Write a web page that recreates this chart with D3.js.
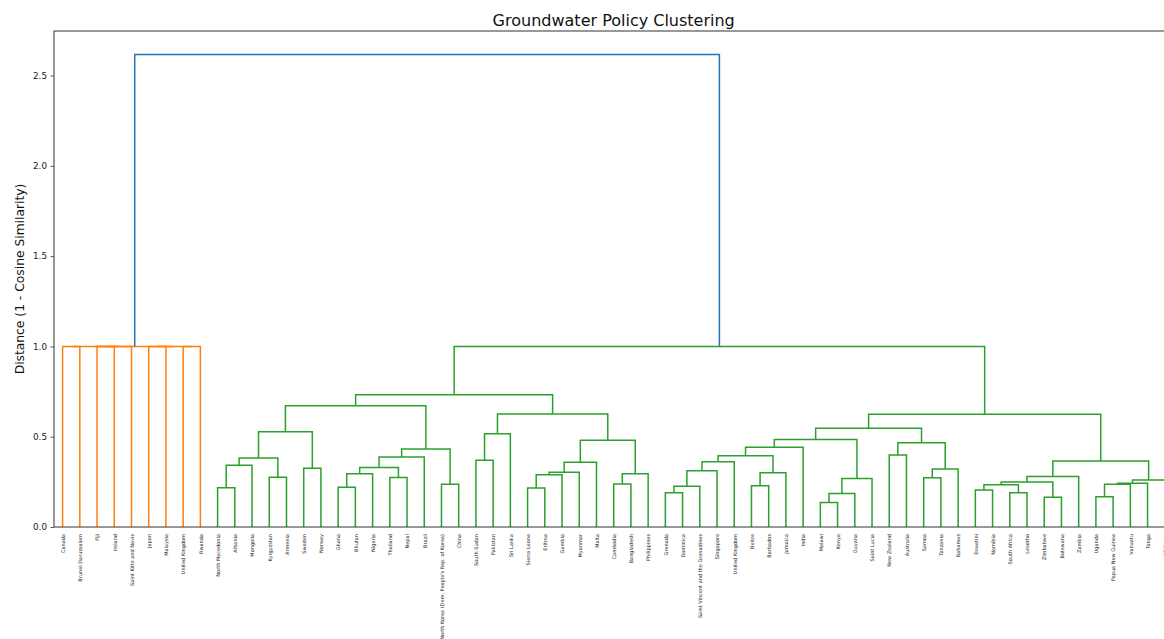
<!DOCTYPE html>
<html>
<head>
<meta charset="utf-8">
<script src="https://cdn.jsdelivr.net/npm/d3@7"></script>
<style>
    body { margin: 0; background: #fff; }
    text { font-family: "DejaVu Sans", sans-serif; }
</style>
</head>
<body>
<div id="chart"></div>
<script>
// Leaves in the order they appear along the x axis
const leaves = [
    "Canada", "Brunei Darussalam", "Fiji", "Ireland", "Saint Kitts and Nevis", "Japan", "Malaysia",
    "United Kingdom", "Rwanda", "North Macedonia", "Albania", "Mongolia", "Kyrgyzstan", "Armenia",
    "Sweden", "Norway", "Ghana", "Bhutan", "Nigeria", "Thailand", "Nepal", "Brazil",
    "North Korea (Dem. People's Rep. of Korea)", "China", "South Sudan", "Pakistan", "Sri Lanka",
    "Sierra Leone", "Eritrea", "Gambia", "Myanmar", "Malta", "Cambodia", "Bangladesh", "Philippines",
    "Grenada", "Dominica", "Saint Vincent and the Grenadines", "Singapore", "United Kingdom", "Belize",
    "Barbados", "Jamaica", "India", "Malawi", "Kenya", "Guyana", "Saint Lucia", "New Zealand",
    "Australia", "Samoa", "Tanzania", "Bahamas", "Eswatini", "Namibia", "South Africa", "Lesotho",
    "Zimbabwe", "Botswana", "Zambia", "Uganda", "Papua New Guinea", "Vanuatu", "Tonga", "Vietnam"
];

// Linkage rows (scipy style): left id, right id, distance.
// ids below leaves.length are leaves, the rest point to earlier rows (leaves.length + row)
const mergeLeft = [
    0, 2, 66, 65, 5, 7, 69, 68,
    9, 73, 12, 74, 14, 76,
    16, 79, 19, 80, 82, 22, 83, 78,
    24, 87, 27, 89, 90, 91, 32, 93, 92, 88, 86,
    35, 98, 99, 100, 40, 102, 101, 104, 44, 106, 107, 105, 48, 50, 111, 110, 109,
    53, 55, 115, 57, 117, 119, 60, 121, 122, 123, 120, 114, 97, 72
];
const mergeRight = [
    1, 3, 4, 67, 6, 8, 70, 71,
    10, 11, 13, 75, 15, 77,
    17, 18, 20, 81, 21, 23, 84, 85,
    25, 26, 28, 29, 30, 31, 33, 34, 94, 95, 96,
    36, 37, 38, 39, 41, 42, 103, 43, 45, 46, 47, 108, 49, 51, 52, 112, 113,
    54, 56, 116, 58, 118, 59, 61, 62, 63, 64, 124, 125, 126, 127
];
const mergeHeight = [
    1.0, 1.0, 1.0, 1.0, 1.0, 1.0, 1.0, 1.0,
    0.218, 0.342, 0.275, 0.382, 0.325, 0.527,
    0.220, 0.295, 0.274, 0.329, 0.387, 0.237, 0.432, 0.671,
    0.370, 0.517, 0.216, 0.290, 0.303, 0.359, 0.238, 0.295, 0.481, 0.626, 0.733,
    0.190, 0.226, 0.312, 0.362, 0.229, 0.301, 0.395, 0.442, 0.135, 0.185, 0.268, 0.484,
    0.399, 0.273, 0.321, 0.467, 0.547,
    0.205, 0.190, 0.234, 0.165, 0.249, 0.279, 0.168, 0.237, 0.242, 0.260, 0.366, 0.625,
    0.999, 2.616
];

const yTicks = [0, 0.5, 1.0, 1.5, 2.0, 2.5];
const clusterColors = ["#ff7f0e", "#2ca02c", "#d62728", "#9467bd"];
const aboveColor = "#1f77b4";

// Size of the svg element
const svg_width = 1164;
const svg_height = 639;

// Plot area (the right edge runs a little past the picture)
const area = {left: 54, top: 31, right: 1173.4, bottom: 527};

const n = leaves.length;
const maxHeight = d3.max(mergeHeight);
const threshold = 0.7 * maxHeight;

// Scales: leaf i sits at 10*i + 5 like scipy does
const x = d3.scaleLinear().domain([0, 10 * n]).range([area.left, area.right]);
const y = d3.scaleLinear().domain([0, maxHeight * 1.05]).range([area.bottom, area.top]);

// Position of every node (leaf or merge)
const nodeX = [];
const nodeY = [];
leaves.forEach((d, i) => { nodeX[i] = 10 * i + 5; nodeY[i] = 0; });
mergeHeight.forEach((h, r) => {
    nodeX[n + r] = (nodeX[mergeLeft[r]] + nodeX[mergeRight[r]]) / 2;
    nodeY[n + r] = h;
});

// Work out link colours: each subtree under the threshold gets its own colour
const linkColor = [];
let nextColor = 0;
function paint(id, color){
    if (id < n) return;
    const r = id - n;
    let c = color;
    if (c == null && mergeHeight[r] <= threshold) c = clusterColors[nextColor++ % clusterColors.length];
    linkColor[r] = c == null ? aboveColor : c;
    paint(mergeLeft[r], c);
    paint(mergeRight[r], c);
}
paint(n + mergeHeight.length - 1, null);

const links = mergeHeight.map((h, r) => ({
    points: [
        [nodeX[mergeLeft[r]], nodeY[mergeLeft[r]]],
        [nodeX[mergeLeft[r]], h],
        [nodeX[mergeRight[r]], h],
        [nodeX[mergeRight[r]], nodeY[mergeRight[r]]]
    ],
    color: linkColor[r]
}));

// Create svg
const svg = d3.select("#chart")
    .append("svg")
    .attr("width", svg_width)
    .attr("height", svg_height);

// Clip the links to the plot area
svg.append("defs")
    .append("clipPath")
        .attr("id", "clip")
    .append("rect")
        .attr("x", area.left)
        .attr("y", area.top)
        .attr("width", area.right - area.left)
        .attr("height", area.bottom - area.top);

const line = d3.line()
    .x(d => x(d[0]))
    .y(d => y(d[1]));

svg.append("g")
    .attr("clip-path", "url(#clip)")
    .selectAll("path")
    .data(links)
    .join("path")
        .attr("d", d => line(d.points))
        .attr("fill", "none")
        .attr("stroke", d => d.color)
        .attr("stroke-width", 1.5);

// y axis
const yAxis = svg.append("g")
    .attr("transform", `translate(${area.left},0)`)
    .call(d3.axisLeft(y).tickValues(yTicks).tickFormat(d3.format(".1f")).tickSize(3.5).tickPadding(3.5));
yAxis.select(".domain").remove();
yAxis.selectAll("line").attr("stroke", "#333").attr("stroke-width", 0.8);
yAxis.selectAll("text")
    .attr("fill", "#222")
    .style("font-size", "8.8px");

// x axis with the leaf labels
const xAxis = svg.append("g")
    .attr("transform", `translate(0,${area.bottom})`)
    .call(d3.axisBottom(x).tickValues(leaves.map((d, i) => 10 * i + 5)).tickFormat((d, i) => leaves[i]).tickSize(0));
xAxis.select(".domain").remove();
xAxis.selectAll("text")
    .attr("y", 0)
    .attr("x", -7)
    .attr("dy", "0.35em")
    .attr("transform", "rotate(-90)")
    .attr("fill", "#222")
    .style("text-anchor", "end")
    .style("font-size", "5px");

// Frame
svg.append("rect")
    .attr("x", area.left)
    .attr("y", area.top)
    .attr("width", area.right - area.left)
    .attr("height", area.bottom - area.top)
    .attr("fill", "none")
    .attr("stroke", "#333")
    .attr("stroke-width", 1);

// Title and y label
svg.append("text")
    .attr("x", (area.left + area.right) / 2)
    .attr("y", 26)
    .attr("text-anchor", "middle")
    .style("font-size", "16px")
    .attr("fill", "#111")
    .text("Groundwater Policy Clustering");

svg.append("text")
    .attr("transform", `translate(24,${(area.top + area.bottom) / 2}) rotate(-90)`)
    .attr("text-anchor", "middle")
    .style("font-size", "12.3px")
    .attr("fill", "#111")
    .text("Distance (1 - Cosine Similarity)");
</script>
</body>
</html>
